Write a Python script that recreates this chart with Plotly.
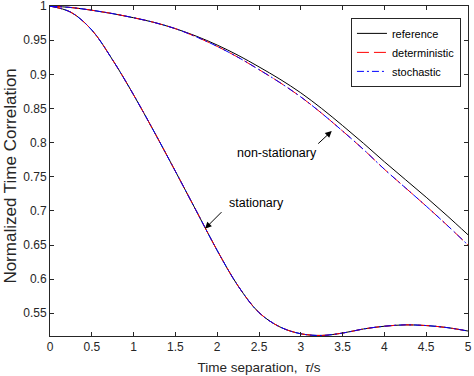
import plotly.graph_objects as go

tau = [0, 0.25, 0.5, 0.75, 1.0, 1.25, 1.5, 1.75, 2.0, 2.25, 2.5,
       2.75, 3.0, 3.25, 3.5, 3.75, 4.0, 4.25, 4.5, 4.75, 5.0]

# stationary case
stat_ref = [1.000, 0.991, 0.965, 0.921, 0.870, 0.815, 0.758, 0.700, 0.642, 0.590, 0.551,
            0.530, 0.520, 0.5175, 0.521, 0.527, 0.531, 0.533, 0.532, 0.529, 0.524]
stat_det = [1.000, 0.991, 0.965, 0.921, 0.870, 0.815, 0.758, 0.700, 0.642, 0.590, 0.551,
            0.530, 0.520, 0.5175, 0.521, 0.527, 0.531, 0.533, 0.532, 0.529, 0.524]
stat_sto = [1.000, 0.991, 0.965, 0.921, 0.870, 0.815, 0.758, 0.700, 0.642, 0.590, 0.551,
            0.530, 0.520, 0.5175, 0.521, 0.527, 0.531, 0.533, 0.532, 0.529, 0.524]

# non-stationary case
nons_ref = [1.000, 0.998, 0.994, 0.989, 0.983, 0.976, 0.967, 0.956, 0.943, 0.928, 0.911,
            0.893, 0.873, 0.850, 0.825, 0.799, 0.772, 0.746, 0.720, 0.693, 0.665]
nons_det = [1.000, 0.998, 0.994, 0.989, 0.983, 0.976, 0.967, 0.955, 0.941, 0.925, 0.907,
            0.888, 0.867, 0.843, 0.817, 0.790, 0.761, 0.734, 0.707, 0.679, 0.650]
nons_sto = [1.000, 0.998, 0.994, 0.989, 0.983, 0.976, 0.967, 0.955, 0.941, 0.925, 0.907,
            0.888, 0.867, 0.843, 0.817, 0.790, 0.761, 0.734, 0.707, 0.679, 0.650]

x_ticks = [0, 0.5, 1, 1.5, 2, 2.5, 3, 3.5, 4, 4.5, 5]
x_labels = ["0", "0.5", "1", "1.5", "2", "2.5", "3", "3.5", "4", "4.5", "5"]
y_ticks = [0.55, 0.6, 0.65, 0.7, 0.75, 0.8, 0.85, 0.9, 0.95, 1.0]
y_labels = ["0.55", "0.6", "0.65", "0.7", "0.75", "0.8", "0.85", "0.9", "0.95", "1"]

FONT = "Liberation Sans, Arial, sans-serif"
AX = "#262626"

series = [
    ("reference", stat_ref, nons_ref, dict(color="#000000", width=1, dash="solid")),
    ("deterministic", stat_det, nons_det, dict(color="#ff0000", width=1, dash="12px,5px")),
    ("stochastic", stat_sto, nons_sto, dict(color="#0000ff", width=1, dash="7px,3px,2px,3px")),
]

fig = go.Figure()
for name, s, n, ln in series:
    fig.add_trace(go.Scatter(x=tau, y=n, mode="lines", name=name, legendgroup=name,
                             line=dict(shape="spline", smoothing=1, **ln)))
    fig.add_trace(go.Scatter(x=tau, y=s, mode="lines", name=name, legendgroup=name,
                             showlegend=False,
                             line=dict(shape="spline", smoothing=1, **ln)))

axis_common = dict(showline=True, linecolor=AX, linewidth=1, mirror="ticks",
                   ticks="inside", ticklen=4, tickcolor=AX, showgrid=False,
                   zeroline=False, automargin=False, ticklabeloverflow="allow",
                   tickfont=dict(family=FONT, size=12, color=AX))

fig.update_xaxes(range=[0, 5.0001], tickvals=x_ticks, ticktext=x_labels,
                 title=dict(text="Time separation,  <i>τ</i>/s",
                            font=dict(family=FONT, size=13.5, color=AX), standoff=9),
                 **axis_common)
fig.update_yaxes(range=[0.5167, 1.0002], tickvals=y_ticks, ticktext=y_labels,
                 **axis_common)

# y axis title
fig.add_annotation(xref="paper", yref="paper", x=(11 - 50) / 418, y=0.483,
                   xanchor="center", yanchor="middle", textangle=-90, showarrow=False,
                   text="Normalized Time Correlation",
                   font=dict(family=FONT, size=17, color=AX))

# labels and arrows
fig.add_annotation(x=3.37, y=0.817, ax=-15, ay=14, text=" ", showarrow=True,
                   arrowhead=2, arrowsize=1.3, arrowwidth=1, arrowcolor="#000000",
                   font=dict(size=1))
fig.add_annotation(x=1.854, y=0.674, ax=18, ay=-18, text=" ", showarrow=True,
                   arrowhead=2, arrowsize=1.3, arrowwidth=1, arrowcolor="#000000",
                   font=dict(size=1))
fig.add_annotation(x=(276.7 - 50) / 83.6, y=1 - (153 - 6) / 682, text="non-stationary",
                   showarrow=False, font=dict(family=FONT, size=12.5, color="#000000"))
fig.add_annotation(x=(256 - 50) / 83.6, y=1 - (203 - 6) / 682, text="stationary",
                   showarrow=False, font=dict(family=FONT, size=12.5, color="#000000"))

fig.update_layout(
    width=474, height=376,
    margin=dict(l=50, r=6, t=6, b=40),
    paper_bgcolor="white", plot_bgcolor="white",
    showlegend=True,
    legend=dict(x=0.72, y=0.964, xanchor="left", yanchor="top",
                bgcolor="white", bordercolor=AX, borderwidth=1,
                font=dict(family=FONT, size=11, color="#000000"),
                tracegroupgap=0, itemwidth=30),
)

fig.write_html("out.html", config={"displayModeBar": False},
               post_script="document.body.style.margin='0';document.body.style.padding='0';")
